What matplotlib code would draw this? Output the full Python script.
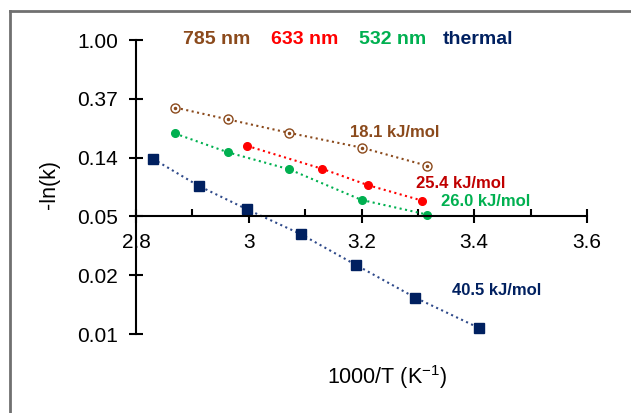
import matplotlib.pyplot as plt
import numpy as np
from matplotlib.lines import Line2D

plt.rcParams['font.family'] = ['Liberation Sans', 'DejaVu Sans']

# 1000/T values and ln(k)
x_785 = [2.870, 2.963, 3.072, 3.200, 3.317]
lnk_785 = [-1.15, -1.35, -1.58, -1.83, -2.14]
x_633 = [2.997, 3.130, 3.212, 3.307]
lnk_633 = [-1.80, -2.19, -2.47, -2.73]
x_532 = [2.869, 2.963, 3.072, 3.200, 3.317]
lnk_532 = [-1.59, -1.91, -2.20, -2.72, -2.97]
x_th = [2.830, 2.911, 2.997, 3.092, 3.191, 3.295, 3.409]
lnk_th = [-2.02, -2.48, -2.88, -3.30, -3.83, -4.38, -4.90]

series_names = ['785 nm', '633 nm', '532 nm', 'thermal']
energies = ['18.1 kJ/mol', '25.4 kJ/mol', '26.0 kJ/mol', '40.5 kJ/mol']
y_ticks = [0, -1, -2, -3, -4, -5]
x_ticks = [2.8, 3.0, 3.2, 3.4, 3.6]
x_ticklabels = ['2.8', '3', '3.2', '3.4', '3.6']

BROWN = '#8B4A1C'
RED = '#FF0000'
DARKRED = '#C00000'
GREEN = '#00B050'
NAVY = '#002060'
NAVYLINE = '#2F4A8A'

fig = plt.figure(figsize=(6.31, 4.13), dpi=100)
ax = fig.add_axes([136 / 631, 79 / 413, 451 / 631, 294 / 413])

# 785 nm: open circles with a dot
ax.plot(x_785, lnk_785, ':', color=BROWN, lw=1.5, marker='o', ms=6.5,
        mfc='white', mec=BROWN, mew=1.0, clip_on=False)
ax.plot(x_785, lnk_785, ls='none', marker='o', ms=1.5, color=BROWN, clip_on=False)
ax.plot(x_633, lnk_633, ':', color=RED, lw=1.5, marker='o', ms=5.5, clip_on=False)
ax.plot(x_532, lnk_532, ':', color=GREEN, lw=1.5, marker='o', ms=5.5, clip_on=False)
ax.plot(x_th, lnk_th, ':', color=NAVYLINE, lw=1.5, marker='s', ms=7,
        mfc=NAVY, mec=NAVY, clip_on=False)

ax.set_xlim(2.8, 3.6)
ax.set_ylim(-5, 0)

for s in ['top', 'right']:
    ax.spines[s].set_visible(False)
ax.spines['bottom'].set_position(('data', -3))
ax.spines['left'].set_linewidth(1.5)
ax.spines['bottom'].set_linewidth(1.5)

ax.set_yticks(y_ticks)
ax.set_yticklabels([f"{np.exp(t):.2f}" for t in y_ticks])
ax.set_xticks(x_ticks)
ax.set_xticklabels(x_ticklabels)
ax.set_xticks([2.9, 3.1, 3.3, 3.5], minor=True)
ax.tick_params(axis='y', direction='inout', length=9.5, width=1.5, labelsize=15, pad=8)
ax.tick_params(axis='x', which='major', direction='inout', length=10, width=1.5,
               labelsize=15, pad=7)
ax.tick_params(axis='x', which='minor', direction='in', length=5, width=1.5)

ax.set_ylabel('-ln(k)', fontsize=15.5)
ax.yaxis.set_label_coords(-0.169, 0.507)
ax.set_xlabel('1000/T (K$^{\\mathregular{-1}}$)', fontsize=15.5)
ax.xaxis.set_label_coords(0.5565, -0.10)

# header with series names
head_x = [2.944, 3.100, 3.256, 3.407]
head_c = [BROWN, RED, GREEN, NAVY]
for name, hx, c in zip(series_names, head_x, head_c):
    ax.text(hx, 0, name, color=c, fontsize=14, fontweight='bold',
            ha='center', va='center')

# activation energies
ann_xy = [(3.258, -1.565), (3.376, -2.432), (3.420, -2.755), (3.439, -4.264)]
ann_c = [BROWN, DARKRED, GREEN, NAVY]
for txt, (tx, ty), c in zip(energies, ann_xy, ann_c):
    ax.text(tx, ty, txt, color=c, fontsize=12, fontweight='bold',
            ha='center', va='center')

# frame of the original screenshot
fig.add_artist(Line2D([10 / 631, 1], [1 - 11 / 413] * 2, transform=fig.transFigure,
                      color='#707070', lw=2))
fig.add_artist(Line2D([10 / 631] * 2, [0, 1 - 11 / 413], transform=fig.transFigure,
                      color='#707070', lw=2))

fig.savefig('out.png', dpi=100)
